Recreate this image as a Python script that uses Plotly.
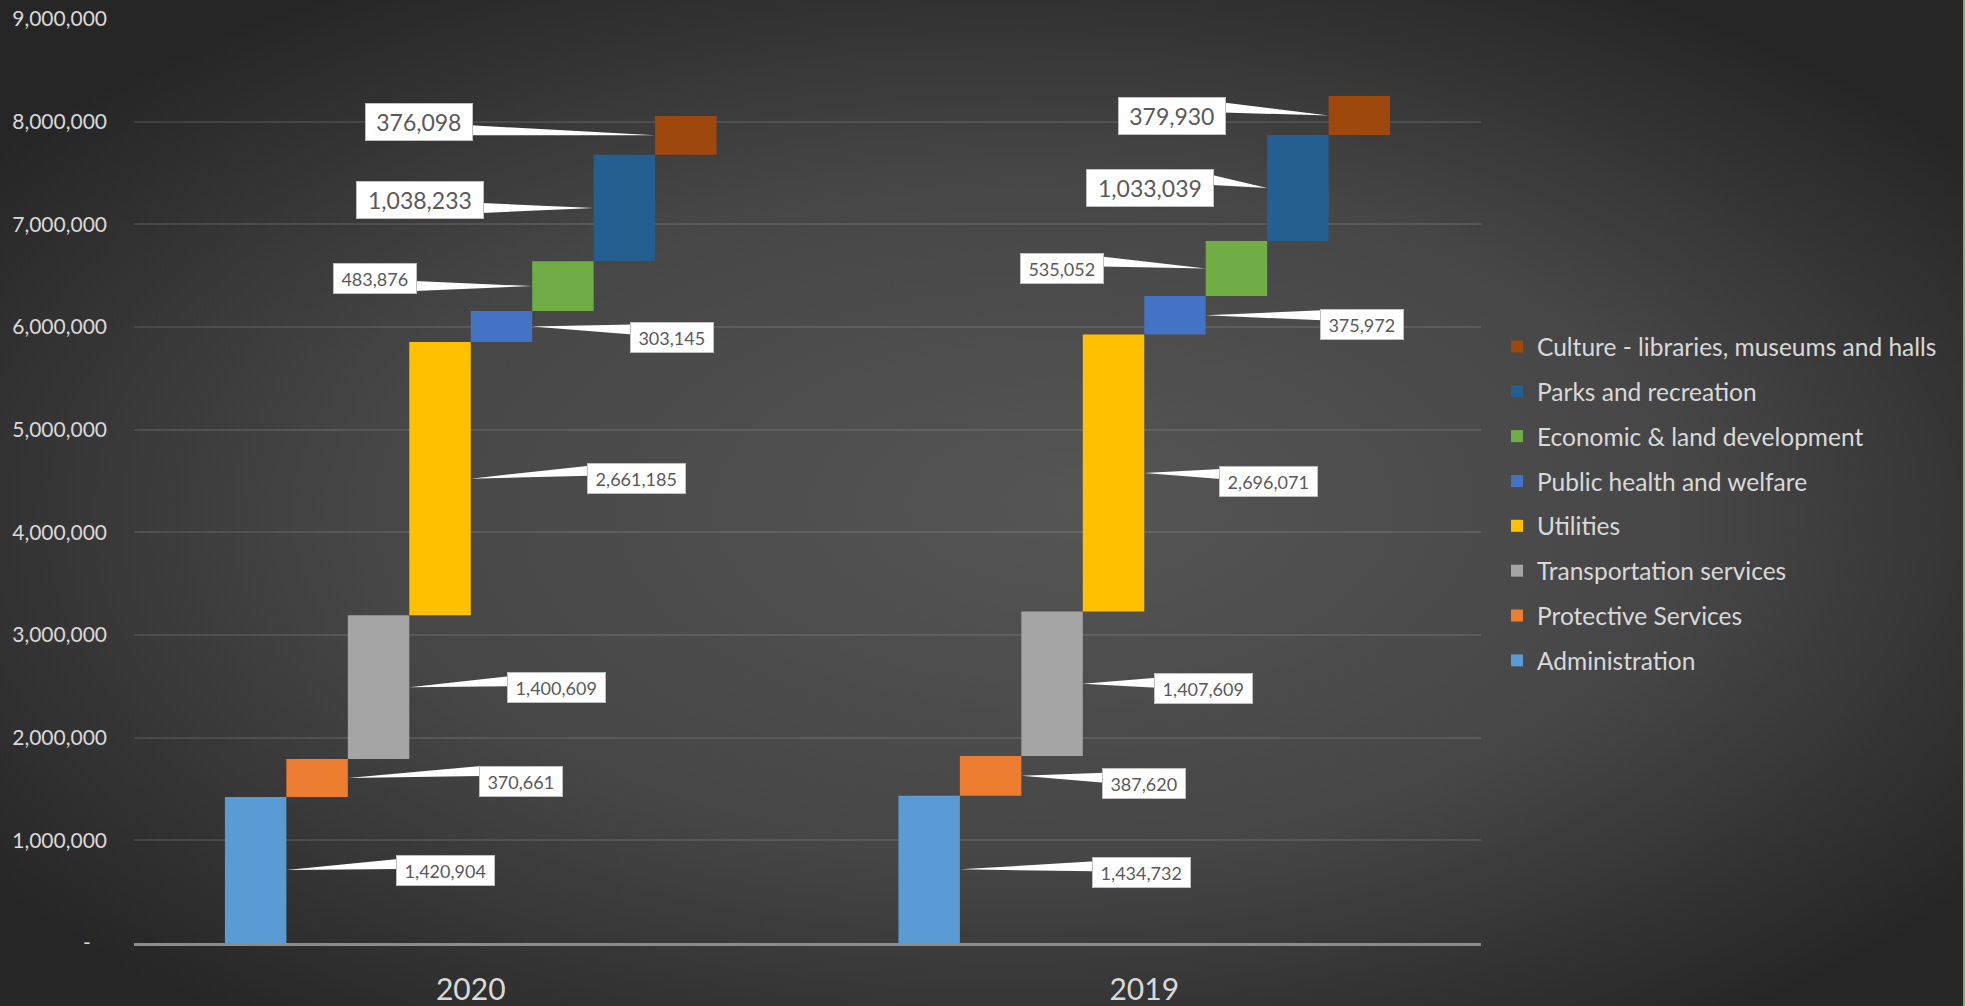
import base64
import plotly.graph_objects as go

# ---------------- data ----------------
years = ["2020", "2019"]
categories = [
    "Administration",
    "Protective Services",
    "Transportation services",
    "Utilities",
    "Public health and welfare",
    "Economic & land development",
    "Parks and recreation",
    "Culture - libraries, museums and halls",
]
values_2020 = [1420904, 370661, 1400609, 2661185, 303145, 483876, 1038233, 376098]
values_2019 = [1434732, 387620, 1407609, 2696071, 375972, 535052, 1033039, 379930]
y_tickvals = [0, 1000000, 2000000, 3000000, 4000000, 5000000, 6000000, 7000000, 8000000, 9000000]
y_ticktext = ["-\u00a0\u00a0\u00a0", "1,000,000", "2,000,000", "3,000,000", "4,000,000",
              "5,000,000", "6,000,000", "7,000,000", "8,000,000", "9,000,000"]

# ---------------- style ----------------
colors = ["#5B9BD5", "#ED7D31", "#A5A5A5", "#FFC000", "#4472C4", "#70AD47", "#255E91", "#9E480E"]
W, H = 1965, 1006
ML, MR, MT, MB = 134, 484, 19, 63
PW, PH = W - ML - MR, H - MT - MB
FONT = "Lato, 'Open Sans', sans-serif"
TXT = "#D9D9D9"

# label callout layout (pixels): box centre offset from bar-edge midpoint, side, size, wedge base offset
label_side = ["r", "r", "r", "r", "r", "l", "l", "l"]
label_big = [False, False, False, False, False, False, True, True]
offsets = {
    "2020": [(159, 0), (173, 3), (147, 0), (166, 0), (140, 11), (-157, -8), (-174, -8), (-236, -13)],
    "2019": [(182, 3), (123, 8), (121, 5), (124, 9), (156, 9), (-144, 0), (-117, 0), (-157, 0)],
}
wedge_dy = {
    "2020": [-6, -10, -6, -8, -8, 8, 8, 8],
    "2019": [-6, -6, -6, -8, -9, -7, -8, -8],
}

n = len(categories)
bargap = 0.27
slot = (1 - bargap) / n

series = {"2020": values_2020, "2019": values_2019}
bases = {}
for yr in years:
    b, acc = [], 0
    for v in series[yr]:
        b.append(acc)
        acc += v
    bases[yr] = b

fig = go.Figure()
for i, cat in enumerate(categories):
    fig.add_trace(go.Bar(
        name=cat,
        x=years,
        y=[series[yr][i] for yr in years],
        base=[bases[yr][i] for yr in years],
        marker=dict(color=colors[i], line=dict(width=0)),
        legendgroup=cat,
        legendrank=n - i,
        hoverinfo="skip",
    ))

annotations = []
shapes = []
for ci, yr in enumerate(years):
    for i in range(n):
        v = series[yr][i]
        left_edge = ci - (1 - bargap) / 2 + i * slot
        xe = left_edge + slot if label_side[i] == "r" else left_edge
        ym = bases[yr][i] + v / 2
        txt = f"{v:,}"
        if label_big[i]:
            bw, bh, fs = 10.1 * len(txt) + 37, 38, 23
        else:
            bw, bh, fs = 7.5 * len(txt) + 31, 31, 18
        dx, dy = offsets[yr][i]
        # wedge callout (pixel coordinates relative to the bar edge midpoint, y up)
        bx = dx - bw / 2 + 2 if label_side[i] == "r" else dx + bw / 2 - 2
        cy = -(dy + wedge_dy[yr][i])
        shapes.append(dict(
            type="path", xref="x", yref="y",
            xsizemode="pixel", ysizemode="pixel", xanchor=xe, yanchor=ym,
            path=f"M0,0 L{bx},{cy + 5} L{bx},{cy - 5} Z",
            fillcolor="#FFFFFF", line=dict(width=0), layer="above",
        ))
        annotations.append(dict(
            x=xe, y=ym, xref="x", yref="y",
            text=txt, showarrow=False, xshift=dx, yshift=-dy,
            xanchor="center", yanchor="middle",
            bgcolor="#FFFFFF", bordercolor="#BFBFBF", borderwidth=1, borderpad=3,
            width=bw - 8, height=bh - 8, align="center", valign="middle",
            font=dict(family=FONT, size=fs, color="#595959"),
        ))

shapes.append(dict(
    type="rect", xref="paper", yref="paper",
    x0=(W - 2 - ML) / PW, x1=(W - ML) / PW, y0=-MB / PH, y1=1 + MT / PH,
    fillcolor="#7AB648", line=dict(width=0), layer="above",
))

# background radial gradient as an svg image
svg = (
    f'<svg xmlns="http://www.w3.org/2000/svg" width="{W}" height="{H}" viewBox="0 0 {W} {H}" preserveAspectRatio="none">'
    '<defs><radialGradient id="g" cx="0.5" cy="0.52" r="0.62" fx="0.55" fy="0.5">'
    '<stop offset="0" stop-color="#555555"/>'
    '<stop offset="0.55" stop-color="#464646"/>'
    '<stop offset="1" stop-color="#262626"/>'
    '</radialGradient></defs>'
    f'<rect width="{W}" height="{H}" fill="url(#g)"/></svg>'
)
src = "data:image/svg+xml;base64," + base64.b64encode(svg.encode()).decode()

fig.update_layout(
    width=W, height=H,
    margin=dict(l=ML, r=MR, t=MT, b=MB, pad=0),
    paper_bgcolor="#333333",
    plot_bgcolor="rgba(0,0,0,0)",
    barmode="group", bargap=bargap, bargroupgap=0,
    font=dict(family=FONT, color=TXT),
    showlegend=True,
    legend=dict(
        x=(1497 - ML) / PW, xanchor="left",
        y=1 - (324 - MT) / PH, yanchor="top",
        traceorder="grouped", tracegroupgap=10,
        font=dict(family=FONT, size=24.5, color=TXT),
        bgcolor="rgba(0,0,0,0)", itemclick=False,
    ),
    annotations=annotations,
    shapes=shapes,
    images=[dict(
        source=src, xref="paper", yref="paper",
        x=-ML / PW, y=1 + MT / PH, sizex=W / PW, sizey=H / PH,
        xanchor="left", yanchor="top", sizing="stretch", layer="below",
    )],
    xaxis=dict(
        type="category", showgrid=False, zeroline=False, automargin=False,
        showline=True, linecolor="#8C8C8C", linewidth=2.5,
        ticks="", tickfont=dict(family=FONT, size=30, color=TXT),
        ticklabelstandoff=18,
    ),
    yaxis=dict(
        range=[0, 9000000], tickvals=y_tickvals, ticktext=y_ticktext, automargin=False,
        showgrid=True, gridcolor="rgba(255,255,255,0.10)", gridwidth=1.5,
        zeroline=False, showline=False, ticks="",
        tickfont=dict(family=FONT, size=21, color=TXT),
        ticklabelstandoff=26,
    ),
)

fig.write_html("out.html", config={"displayModeBar": False},
               post_script="document.body.style.margin='0px';")
